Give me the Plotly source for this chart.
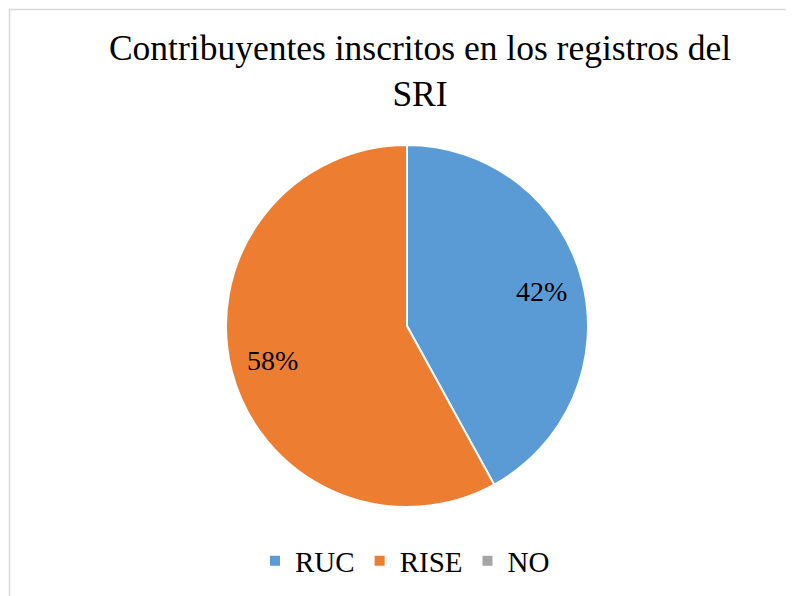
import math
import plotly.graph_objects as go

labels = ["RUC", "RISE", "NO"]
values = [42, 58, 0]
colors = ["#5b9bd5", "#ed7d31", "#a5a5a5"]

W, H = 794, 596
OFF = 8  # page body margin offset
cx, cy, r = 407 - OFF, 326 - OFF, 181

FONT = "Liberation Serif"

fig = go.Figure(go.Pie(
    labels=labels, values=values, textinfo="none",
    sort=False, direction="clockwise", rotation=0,
    marker=dict(colors=colors, line=dict(color="white", width=2)),
    domain=dict(x=[(cx - r) / W, (cx + r) / W],
                y=[1 - (cy + r) / H, 1 - (cy - r) / H]),
    showlegend=True, hoverinfo="label+percent",
))

# percentage labels placed along each slice's mid-angle
total = sum(values)
annotations = []
cum = 0.0
for lab, v in zip(labels, values):
    if v > 0:
        mid = cum + v / 2
        ang = math.radians(90 - 360 * mid / total)
        rr = 0.77 * r
        px = cx + rr * math.cos(ang)
        py = cy - rr * math.sin(ang)
        annotations.append(dict(text=f"{round(100 * v / total)}%", x=px / W, y=1 - py / H,
                                xref="paper", yref="paper", showarrow=False,
                                xanchor="center", yanchor="middle",
                                font=dict(family=FONT, size=28, color="black")))
    cum += v

fig.update_layout(
    width=W, height=H,
    margin=dict(l=0, r=0, t=0, b=0),
    paper_bgcolor="white", plot_bgcolor="white",
    font=dict(family=FONT, color="black"),
    title=dict(text="Contribuyentes inscritos en los registros del<br>SRI",
               x=(420 - OFF) / W, xanchor="center", y=1 - 52 / H, yanchor="top",
               font=dict(family=FONT, size=35.5, color="black")),
    legend=dict(orientation="h", x=0.5, xanchor="center", y=1 - 553 / H, yanchor="middle",
                font=dict(family=FONT, size=29, color="black"),
                itemwidth=30, traceorder="normal"),
    annotations=annotations,
    shapes=[dict(type="rect", xref="paper", yref="paper",
                 x0=1.5 / W, x1=1.02, y0=-0.02, y1=1 - 1.5 / H,
                 line=dict(color="#d9d9d9", width=1.5))],
)

fig.write_html("out.html")
